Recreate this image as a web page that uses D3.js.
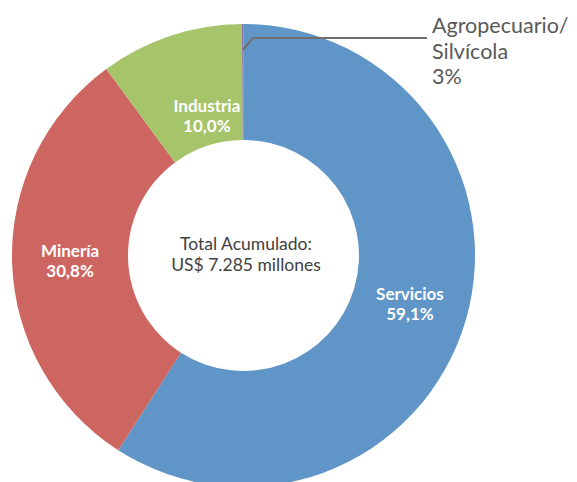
<!DOCTYPE html>
<html>
<head>
<meta charset="utf-8">
<script src="https://cdn.jsdelivr.net/npm/d3@7"></script>
<style>
  html, body { margin: 0; padding: 0; background: #ffffff; }
  svg { display: block; }
</style>
</head>
<body>
<svg id="chart" width="577" height="482"></svg>
<script>
// ---- data ----
const categories = ["Servicios", "Minería", "Industria", "Agropecuario/Silvícola"];
const values = [59.1, 30.8, 10.0, 0.1];
const valueLabels = ["59,1%", "30,8%", "10,0%", "3%"];
const colors = ["#5F95C7", "#CD6660", "#A6C46A", "#8064A2"];
const centerLines = ["Total Acumulado:", "US$ 7.285 millones"];

// ---- layout ----
const svg = d3.select("#chart");
const cx = 243.5, cy = 255.5;
const outerR = 231.5, innerR = 115.5;
const font = "Lato, 'Open Sans', sans-serif";

const pie = d3.pie().sort(null).value(d => d.v);
const arcs = pie(categories.map((c, i) => ({ c, v: values[i], lab: valueLabels[i], col: colors[i] })));
const arc = d3.arc().innerRadius(innerR).outerRadius(outerR);

const g = svg.append("g").attr("transform", `translate(${cx},${cy})`);

g.selectAll("path.slice").data(arcs).join("path")
  .attr("class", "slice")
  .attr("d", arc)
  .attr("fill", d => d.data.col);

// inside labels (first three)
const labelArc = d3.arc().innerRadius((innerR + outerR) / 2).outerRadius((innerR + outerR) / 2);
const tweak = { "Industria": [18, 25] };
const inner = g.selectAll("text.slab").data(arcs.slice(0, 3)).join("text")
  .attr("class", "slab")
  .attr("font-family", font)
  .attr("font-weight", "bold")
  .attr("font-size", 17)
  .attr("fill", "#ffffff")
  .attr("text-anchor", "middle")
  .attr("transform", d => {
    const [x, y] = labelArc.centroid(d);
    const t = tweak[d.data.c] || [0, 0];
    return `translate(${x + t[0]},${y + t[1]})`;
  });
inner.append("tspan").attr("x", 0).attr("y", -4).text(d => d.data.c);
inner.append("tspan").attr("x", 0).attr("y", 16).text(d => d.data.lab);

// Agro leader line + label
const agro = arcs[3];
const mid = (agro.startAngle + agro.endAngle) / 2;
const pStart = [Math.sin(mid) * (outerR - 26), -Math.cos(mid) * (outerR - 26)];
const pElbow = [pStart[0] + 10, -outerR + 38 - 24];
const pEnd = [427 - cx, pElbow[1]];
g.append("polyline")
  .attr("points", [pStart, pElbow, pEnd].map(p => p.join(",")).join(" "))
  .attr("fill", "none")
  .attr("stroke", "#6E6E6E")
  .attr("stroke-width", 2);

const agroText = svg.append("text")
  .attr("font-family", font)
  .attr("font-size", 21.5)
  .attr("fill", "#595959");
const agroLines = ["Agropecuario/", "Silvícola", agro.data.lab];
agroLines.forEach((t, i) => {
  agroText.append("tspan").attr("x", 432).attr("y", 33 + i * 25.5).text(t);
});

// center text
const ct = svg.append("text")
  .attr("font-family", font)
  .attr("font-size", 17.5)
  .attr("fill", "#404040")
  .attr("text-anchor", "middle");
centerLines.forEach((t, i) => {
  ct.append("tspan").attr("x", 246).attr("y", 250 + i * 21).text(t);
});
</script>
</body>
</html>
